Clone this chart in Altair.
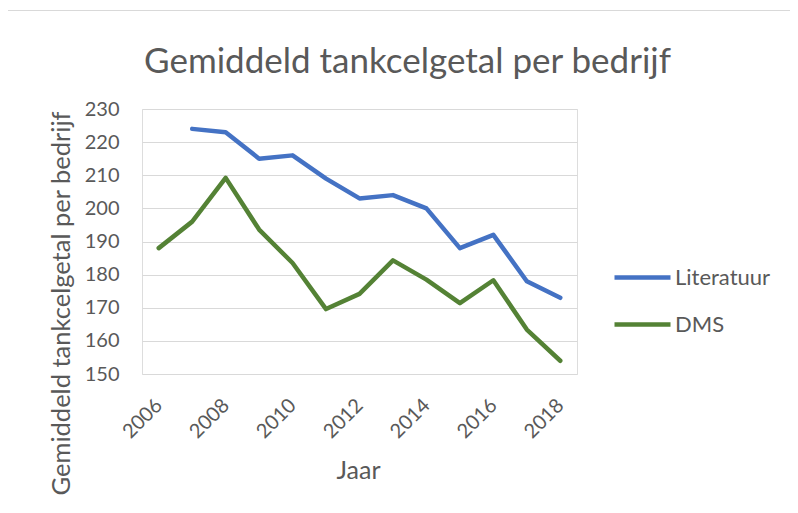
import altair as alt
import pandas as pd

years = list(range(2006, 2019))
literatuur = [None, 224, 223, 215, 216, 209, 203, 204, 200, 188, 192, 178, 173]
dms = [188, 196, 209.2, 193.6, 183.5, 169.6, 174.2, 184.3, 178.5, 171.4, 178.3, 163.4, 154]
series_names = ["Literatuur", "DMS"]
series_colors = ["#4472C4", "#548235"]
y_ticks = [150, 160, 170, 180, 190, 200, 210, 220, 230]
x_label_years = [2006, 2008, 2010, 2012, 2014, 2016, 2018]

rows = []
for y, a, b in zip(years, literatuur, dms):
    if a is not None:
        rows.append({"Jaar": y, "Serie": "Literatuur", "Waarde": a})
    rows.append({"Jaar": y, "Serie": "DMS", "Waarde": b})
df = pd.DataFrame(rows)

FONT = "Lato"
TXT = "#595959"

lines = alt.Chart(df).mark_line(strokeWidth=4.5, strokeCap="round", strokeJoin="round").encode(
    x=alt.X("Jaar:O", scale=alt.Scale(type="point", padding=0.5),
            axis=alt.Axis(values=x_label_years, labelAngle=-45, labelAlign="right",
                          labelBaseline="middle", labelPadding=28, labelFontSize=20,
                          labelColor=TXT, labelFont=FONT, ticks=False, domain=False,
                          grid=False, title="Jaar", titleFontSize=25, titleFont=FONT,
                          titleColor=TXT, titleFontWeight="normal", titleX=216, titleY=96,
                          titleAlign="center", titleBaseline="middle")),
    y=alt.Y("Waarde:Q", scale=alt.Scale(domain=[150, 230], nice=False, zero=False),
            axis=alt.Axis(values=y_ticks, labelFontSize=20, labelColor=TXT, labelFont=FONT,
                          labelPadding=23, ticks=False, domain=False, grid=True,
                          gridColor="#D9D9D9", gridWidth=1,
                          title="Gemiddeld tankcelgetal per bedrijf", titleFontSize=25.5,
                          titleFont=FONT, titleColor=TXT, titleFontWeight="normal",
                          titleAngle=-90, titleX=-81, titleY=194, titleAlign="center",
                          titleBaseline="middle")),
    color=alt.Color("Serie:N", scale=alt.Scale(domain=series_names, range=series_colors),
                    legend=alt.Legend(title=None, orient="none", legendX=470, legendY=138,
                                      symbolType="stroke", symbolSize=3136,
                                      symbolStrokeWidth=4.5, labelFontSize=22,
                                      labelFont=FONT, labelColor=TXT, labelOffset=2,
                                      padding=0, rowPadding=5)),
    order=alt.Order("Jaar:O"),
)

frame_df = pd.DataFrame({"k": [0]})
frame = alt.Chart(frame_df).mark_rect(fill=None, stroke="#D9D9D9", strokeWidth=1).encode(
    x=alt.value(-136.5), x2=alt.value(700), y=alt.value(-98.5), y2=alt.value(500)
)

chart = alt.layer(frame, lines).properties(
    width=435, height=265,
    autosize=alt.AutoSizeParams(type="none"),
    padding={"left": 134, "top": 101, "right": 213, "bottom": 131},
    title=alt.TitleParams("Gemiddeld tankcelgetal per bedrijf", fontSize=35, font=FONT,
                          color=TXT, fontWeight="normal", anchor="middle", frame="group",
                          baseline="alphabetic", dx=48, offset=-98),
).configure_view(stroke=None).configure(background="white")

chart.save("out.html", embed_options={"renderer": "svg", "actions": False})
